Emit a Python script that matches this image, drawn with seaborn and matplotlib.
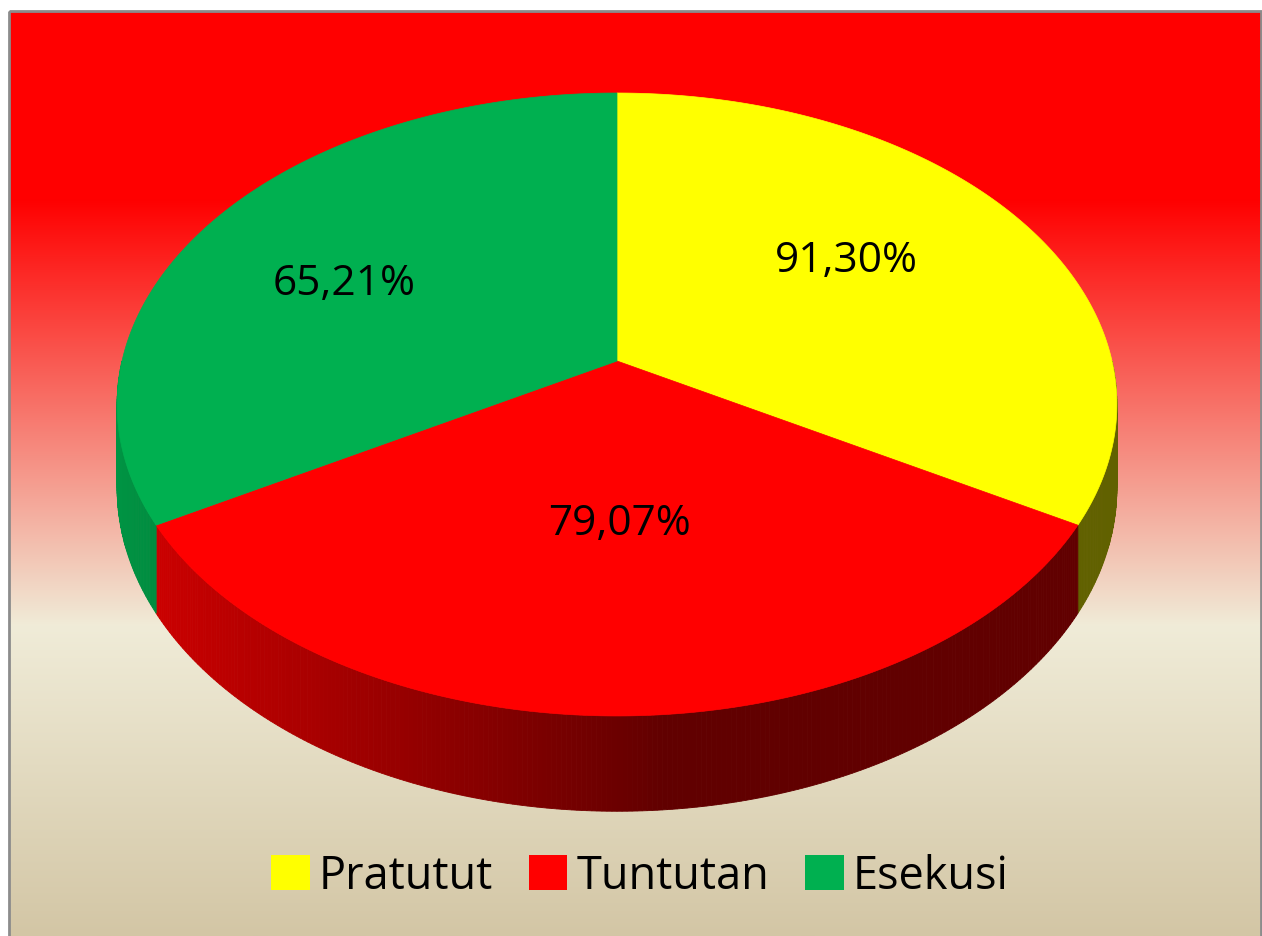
import numpy as np
import matplotlib
matplotlib.use("Agg")
import matplotlib.pyplot as plt
from matplotlib.patches import Polygon, Patch, Rectangle
import seaborn as sns

# data
categories = ["Pratutut", "Tuntutan", "Esekusi"]
percent_labels = ["91,30%", "79,07%", "65,21%"]
slice_values = [1, 1, 1]  # the wedges are drawn as equal thirds in the original
colors = ["#FFFF00", "#FF0000", "#00B050"]

sns.set_theme(style="white")
plt.rcParams["font.family"] = ["Open Sans", "DejaVu Sans"]
plt.rcParams["text.color"] = "black"

W, H = 1262, 937
fig = plt.figure(figsize=(W / 100, H / 100), dpi=100)
fig.patch.set_facecolor("white")
ax = fig.add_axes([0, 0, 1, 1])
ax.set_xlim(0, W)
ax.set_ylim(H, 0)
ax.axis("off")

# background gradient (red top -> beige bottom)
stops_y = [12, 200, 627, 937]
stops_c = np.array([[255, 0, 0], [255, 0, 0], [240, 236, 216], [211, 198, 165]]) / 255
yy = np.arange(12, 938)
grad = np.stack([np.interp(yy, stops_y, stops_c[:, i]) for i in range(3)], axis=-1)
ax.imshow(grad[:, None, :], extent=(9, 1261, 937, 12), aspect="auto",
          interpolation="bilinear", zorder=0)
ax.add_patch(Rectangle((9, 12), 1252, 940, fill=False, edgecolor="#8c8c8c", lw=2, zorder=6))

# simple perspective 3D pie
cx, cy = 617, 362
a, b, k = 495, 305.4, 0.1396
depth = 82
light = np.deg2rad(265)


def project(theta, r=1.0):
    X = r * np.sin(theta)
    Z = r * np.cos(theta)
    s = 1 / (1 + k * Z)
    return cx + a * X * s, cy - b * Z * s, s


bounds = np.concatenate([[0], np.cumsum(slice_values)]) / np.sum(slice_values) * 2 * np.pi
rgb = [np.array(matplotlib.colors.to_rgb(c)) for c in colors]

# side wall
th = np.linspace(np.pi / 2, 3 * np.pi / 2, 361)
for t0, t1 in zip(th[:-1], th[1:]):
    tm = (t0 + t1) / 2
    idx = min(np.searchsorted(bounds, tm) - 1, len(colors) - 1)
    f = 0.38 + 0.46 * max(0.0, np.cos(tm - light))
    col = np.clip(rgb[idx] * f, 0, 1)
    x0, y0, s0 = project(t0)
    x1, y1, s1 = project(t1)
    pts = [(x0, y0), (x1, y1), (x1, y1 + depth * s1), (x0, y0 + depth * s0)]
    ax.add_patch(Polygon(pts, closed=True, facecolor=col, edgecolor=col, lw=0.6, zorder=2))

# top faces
for i, (t0, t1) in enumerate(zip(bounds[:-1], bounds[1:])):
    tt = np.linspace(t0, t1, 200)
    x, y, _ = project(tt)
    pts = np.column_stack([np.r_[cx, x], np.r_[cy, y]])
    ax.add_patch(Polygon(pts, closed=True, facecolor=colors[i], edgecolor=colors[i],
                         lw=0.5, zorder=3))

# value labels
label_xy = [(846, 272), (619, 535), (344, 295)]
for (lx, ly), txt in zip(label_xy, percent_labels):
    ax.text(lx, ly, txt, ha="center", va="baseline", fontsize=30.5, color="black", zorder=4)

# legend
handles = [Patch(facecolor=c, edgecolor="none", label=n) for c, n in zip(colors, categories)]
fig.legend(handles=handles, loc="center", bbox_to_anchor=(640 / W, 1 - 877 / H), ncol=3,
           frameon=False, fontsize=32.5, labelcolor="black", handlelength=0.85,
           handleheight=0.8, handletextpad=0.2, columnspacing=0.8)

fig.savefig("out.png", dpi=100, facecolor="white")
